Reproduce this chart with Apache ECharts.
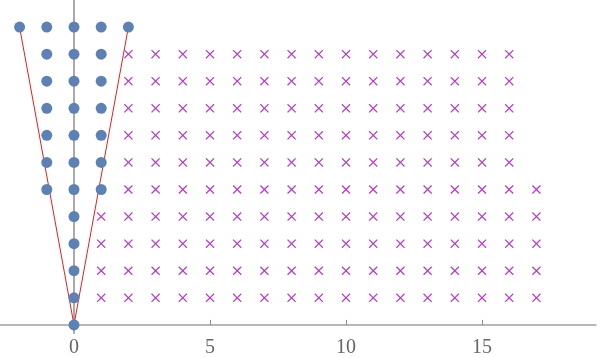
<!DOCTYPE html>
<html><head><meta charset="utf-8">
<script src="https://cdn.jsdelivr.net/npm/echarts@6/dist/echarts.min.js"></script>
<style>html,body{margin:0;padding:0;background:#fff}#c{width:600px;height:358px}</style>
</head><body><div id="c"></div>
<script>
// Blue dots: [x, y]
var dotPoints = [
  [0,0],[0,1],[0,2],[0,3],[0,4],
  [-1,5],[0,5],[1,5],
  [-1,6],[0,6],[1,6],
  [-1,7],[0,7],[1,7],
  [-1,8],[0,8],[1,8],
  [-1,9],[0,9],[1,9],
  [-1,10],[0,10],[1,10],
  [-2,11],[-1,11],[0,11],[1,11],[2,11]
];
// Purple crosses: rows (y) with first and last x
var crossRowY    = [1, 2, 3, 4, 5, 6, 7, 8, 9, 10];
var crossRowFrom = [1, 1, 1, 1, 2, 2, 2, 2, 2, 2];
var crossRowTo   = [17,17,17,17,17,16,16,16,16,16];
// Red boundary lines
var leftLine  = [[0,0],[-2,11]];
var rightLine = [[0,0],[2,11]];
var xTicks = [0, 5, 10, 15];

var crossPoints = [];
for (var i = 0; i < crossRowY.length; i++) {
  for (var x = crossRowFrom[i]; x <= crossRowTo[i]; x++) crossPoints.push([x, crossRowY[i]]);
}

var chart = echarts.init(document.getElementById('c'), null, {renderer:'canvas'});
chart.setOption({
  animation:false,
  grid:{left:0, right:4, top:0, bottom:25, containLabel:false},
  xAxis:{type:'value', min:-2.72, max:19.19,
    axisLine:{onZero:true, lineStyle:{color:'#a0a0a0', width:1.5}},
    axisTick:{show:true, inside:true, length:5, lineStyle:{color:'#888'},
      customValues:[5,10,15]},
    axisLabel:{customValues:xTicks, color:'#666', fontFamily:'Liberation Serif', fontSize:20, margin:5},
    splitLine:{show:false}},
  yAxis:{type:'value', min:-0.3, max:12.0,
    axisLine:{show:true, onZero:true, lineStyle:{color:'#aaa', width:2}},
    axisTick:{show:false}, axisLabel:{show:false}, splitLine:{show:false}},
  series:[
    {type:'line', data:leftLine, symbol:'none', lineStyle:{color:'#e02020', width:1}, z:2},
    {type:'line', data:rightLine, symbol:'none', lineStyle:{color:'#e02020', width:1}, z:2},
    {type:'scatter', data:dotPoints, symbol:'circle', symbolSize:11,
      itemStyle:{color:'#5e81b5', opacity:1}, z:3},
    {type:'scatter', data:crossPoints,
      symbol:'path://M0,1L1,0L5,4L9,0L10,1L6,5L10,9L9,10L5,6L1,10L0,9L4,5Z',
      symbolSize:9, itemStyle:{color:'#b540c5', opacity:1}, z:3}
  ]
});
</script></body></html>
